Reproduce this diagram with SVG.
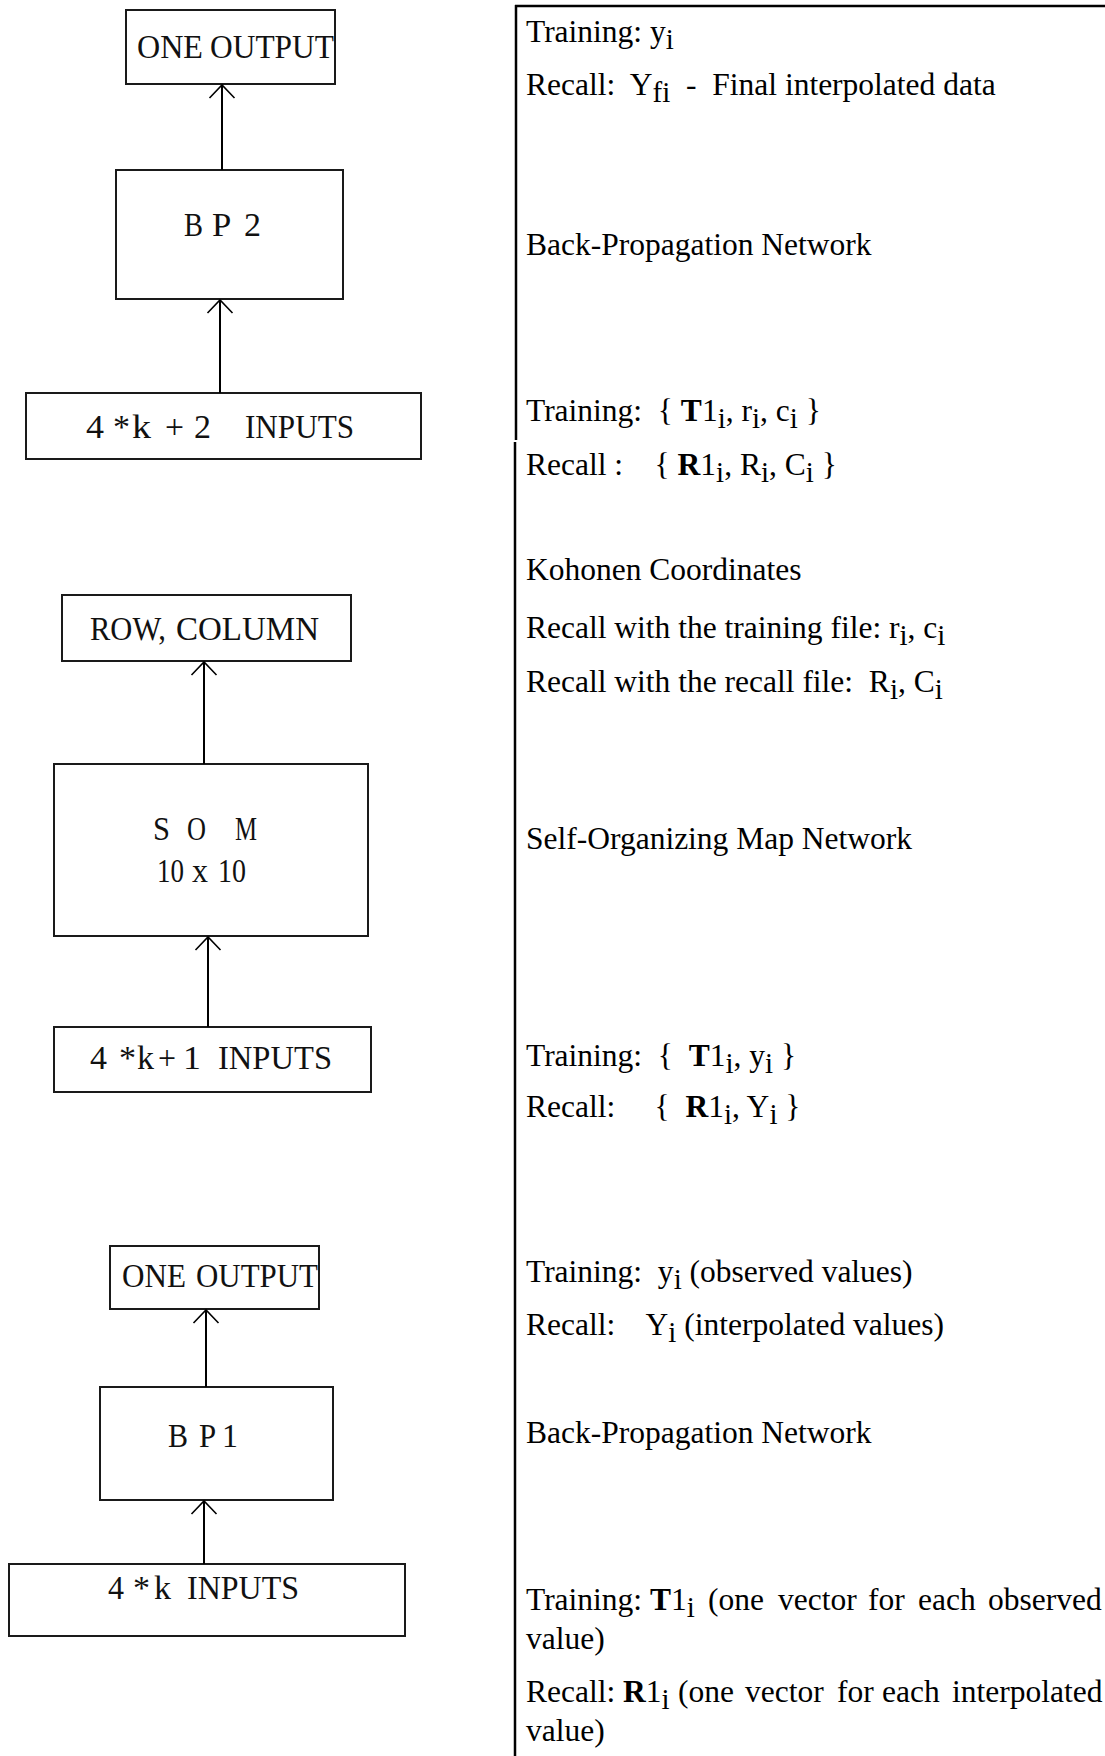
<svg xmlns="http://www.w3.org/2000/svg" width="1105" height="1756" viewBox="0 0 1105 1756">
  <style>
    .box { fill: #ffffff; stroke: #1a1a1a; stroke-width: 2; }
    .lbl { font-family: "Liberation Serif", "Times New Roman", serif; font-size: 34px; fill: #111111; word-spacing: -7px; }
    .wire { stroke: #000000; stroke-width: 2; fill: none; }
    .rule { stroke: #000000; stroke-width: 2.5; fill: none; }
    .note { font-family: "Liberation Serif", "Times New Roman", serif; font-size: 31.5px; fill: #000000; }
    .sub { font-size: 29px; }
    .b { font-weight: bold; }
  </style>
  <defs>
    <marker id="chevron" viewBox="-16 -16 32 32" refX="0" refY="0" markerWidth="32" markerHeight="32" markerUnits="userSpaceOnUse" orient="auto">
      <path d="M -13 -12.5 L 0 0 L -13 12.5" fill="none" stroke="#000000" stroke-width="1.6"/>
    </marker>
  </defs>

  <rect width="1105" height="1756" fill="#ffffff"/>

  <!-- left column: network stack -->
  <g id="bp2-output">
    <rect class="box" x="126" y="10" width="209" height="74"/>
    <text class="lbl" y="58"><tspan x="137" textLength="66" lengthAdjust="spacingAndGlyphs">ONE</tspan> <tspan x="210" textLength="124" lengthAdjust="spacingAndGlyphs">OUTPUT</tspan></text>
  </g>
  <g id="bp2">
    <rect class="box" x="116" y="170" width="227" height="129"/>
    <text class="lbl" y="236"><tspan x="184" textLength="19" lengthAdjust="spacingAndGlyphs">B</tspan> <tspan x="212" textLength="18" lengthAdjust="spacingAndGlyphs">P</tspan> <tspan x="244" textLength="17" lengthAdjust="spacingAndGlyphs">2</tspan></text>
  </g>
  <g id="bp2-inputs">
    <rect class="box" x="26" y="393" width="395" height="66"/>
    <text class="lbl" y="438"><tspan x="86" textLength="18" lengthAdjust="spacingAndGlyphs">4</tspan> <tspan x="113" textLength="17" lengthAdjust="spacingAndGlyphs">*</tspan><tspan x="132" textLength="19" lengthAdjust="spacingAndGlyphs">k</tspan> <tspan x="165" textLength="19" lengthAdjust="spacingAndGlyphs">+</tspan><tspan x="194" textLength="17" lengthAdjust="spacingAndGlyphs">2</tspan> <tspan x="245" textLength="109" lengthAdjust="spacingAndGlyphs">INPUTS</tspan></text>
  </g>

  <g id="som-output">
    <rect class="box" x="62" y="595" width="289" height="66"/>
    <text class="lbl" y="640"><tspan x="90" textLength="76" lengthAdjust="spacingAndGlyphs">ROW,</tspan> <tspan x="176" textLength="143" lengthAdjust="spacingAndGlyphs">COLUMN</tspan></text>
  </g>
  <g id="som">
    <rect class="box" x="54" y="764" width="314" height="172"/>
    <text class="lbl"><tspan x="153" y="840" textLength="17" lengthAdjust="spacingAndGlyphs">S</tspan> <tspan x="187" textLength="19" lengthAdjust="spacingAndGlyphs">O</tspan> <tspan x="235" textLength="22" lengthAdjust="spacingAndGlyphs">M</tspan> <tspan x="157" y="882" textLength="27" lengthAdjust="spacingAndGlyphs">10</tspan> <tspan x="192" textLength="16" lengthAdjust="spacingAndGlyphs">x</tspan> <tspan x="218" textLength="28" lengthAdjust="spacingAndGlyphs">10</tspan></text>
  </g>
  <g id="som-inputs">
    <rect class="box" x="54" y="1027" width="317" height="65"/>
    <text class="lbl" y="1069"><tspan x="90" textLength="17" lengthAdjust="spacingAndGlyphs">4</tspan> <tspan x="119" textLength="17" lengthAdjust="spacingAndGlyphs">*</tspan><tspan x="137" textLength="17" lengthAdjust="spacingAndGlyphs">k</tspan> <tspan x="158" textLength="18" lengthAdjust="spacingAndGlyphs">+</tspan> <tspan x="183" textLength="18" lengthAdjust="spacingAndGlyphs">1</tspan> <tspan x="218" textLength="114" lengthAdjust="spacingAndGlyphs">INPUTS</tspan></text>
  </g>

  <g id="bp1-output">
    <rect class="box" x="110" y="1246" width="209" height="63"/>
    <text class="lbl" y="1287"><tspan x="122" textLength="64" lengthAdjust="spacingAndGlyphs">ONE</tspan> <tspan x="196" textLength="122" lengthAdjust="spacingAndGlyphs">OUTPUT</tspan></text>
  </g>
  <g id="bp1">
    <rect class="box" x="100" y="1387" width="233" height="113"/>
    <text class="lbl" y="1447"><tspan x="168" textLength="20" lengthAdjust="spacingAndGlyphs">B</tspan> <tspan x="199" textLength="16" lengthAdjust="spacingAndGlyphs">P</tspan> <tspan x="222" textLength="16" lengthAdjust="spacingAndGlyphs">1</tspan></text>
  </g>
  <g id="bp1-inputs">
    <rect class="box" x="9" y="1564" width="396" height="72"/>
    <text class="lbl" y="1599"><tspan x="108" textLength="16" lengthAdjust="spacingAndGlyphs">4</tspan> <tspan x="133" textLength="17" lengthAdjust="spacingAndGlyphs">*</tspan><tspan x="154" textLength="17" lengthAdjust="spacingAndGlyphs">k</tspan> <tspan x="187" textLength="112" lengthAdjust="spacingAndGlyphs">INPUTS</tspan></text>
  </g>

  <!-- connectors between the stacked networks -->
  <g id="connectors">
    <line class="wire" x1="222" y1="170" x2="222" y2="85" marker-end="url(#chevron)"/>
    <line class="wire" x1="220" y1="393" x2="220" y2="300" marker-end="url(#chevron)"/>
    <line class="wire" x1="204" y1="764" x2="204" y2="662" marker-end="url(#chevron)"/>
    <line class="wire" x1="208" y1="1027" x2="208" y2="937" marker-end="url(#chevron)"/>
    <line class="wire" x1="206" y1="1387" x2="206" y2="1310" marker-end="url(#chevron)"/>
    <line class="wire" x1="204" y1="1564" x2="204" y2="1501" marker-end="url(#chevron)"/>
  </g>

  <!-- right column: description table -->
  <g id="description">
    <line class="rule" x1="515" y1="6" x2="1105" y2="6"/>
    <line class="rule" x1="516" y1="5" x2="516" y2="440"/>
    <line class="rule" x1="515" y1="442" x2="515" y2="1756"/>

    <text class="note" x="526" y="42">Training: y<tspan class="sub" dy="7">i</tspan></text>
    <text class="note" x="526" y="95" xml:space="preserve">Recall:  Y<tspan class="sub" dy="7">fi</tspan><tspan dy="-7">  -  Final interpolated data</tspan></text>
    <text class="note" x="526" y="255">Back-Propagation Network</text>

    <text class="note" x="526" y="421" xml:space="preserve">Training:  { <tspan class="b">T</tspan>1<tspan class="sub" dy="7">i</tspan><tspan dy="-7">, r</tspan><tspan class="sub" dy="7">i</tspan><tspan dy="-7">, c</tspan><tspan class="sub" dy="7">i</tspan><tspan dy="-7"> }</tspan></text>
    <text class="note" x="526" y="475" xml:space="preserve">Recall :    { <tspan class="b">R</tspan>1<tspan class="sub" dy="7">i</tspan><tspan dy="-7">, R</tspan><tspan class="sub" dy="7">i</tspan><tspan dy="-7">, C</tspan><tspan class="sub" dy="7">i</tspan><tspan dy="-7"> }</tspan></text>

    <text class="note" x="526" y="580">Kohonen Coordinates</text>
    <text class="note" x="526" y="638">Recall with the training file: r<tspan class="sub" dy="7">i</tspan><tspan dy="-7">, c</tspan><tspan class="sub" dy="7">i</tspan></text>
    <text class="note" x="526" y="692" xml:space="preserve">Recall with the recall file:  R<tspan class="sub" dy="7">i</tspan><tspan dy="-7">, C</tspan><tspan class="sub" dy="7">i</tspan></text>
    <text class="note" x="526" y="849">Self-Organizing Map Network</text>

    <text class="note" x="526" y="1066" xml:space="preserve">Training:  {  <tspan class="b">T</tspan>1<tspan class="sub" dy="7">i</tspan><tspan dy="-7">, y</tspan><tspan class="sub" dy="7">i</tspan><tspan dy="-7"> }</tspan></text>
    <text class="note" x="526" y="1117" xml:space="preserve">Recall:     {  <tspan class="b">R</tspan>1<tspan class="sub" dy="7">i</tspan><tspan dy="-7">, Y</tspan><tspan class="sub" dy="7">i</tspan><tspan dy="-7"> }</tspan></text>

    <text class="note" x="526" y="1282" xml:space="preserve">Training:  y<tspan class="sub" dy="7">i</tspan><tspan dy="-7"> (observed values)</tspan></text>
    <text class="note" x="526" y="1335" xml:space="preserve">Recall:    Y<tspan class="sub" dy="7">i</tspan><tspan dy="-7"> (interpolated values)</tspan></text>
    <text class="note" x="526" y="1443">Back-Propagation Network</text>

    <text class="note" x="526" y="1610">Training: <tspan class="b">T</tspan>1<tspan class="sub" dy="7">i</tspan><tspan x="708" dy="-7">(one</tspan><tspan x="778">vector</tspan><tspan x="868">for</tspan><tspan x="918">each</tspan><tspan x="988">observed</tspan></text>
    <text class="note" x="526" y="1649">value)</text>
    <text class="note" x="526" y="1702">Recall: <tspan class="b">R</tspan>1<tspan class="sub" dy="7">i</tspan><tspan x="678" dy="-7">(one</tspan><tspan x="745">vector</tspan><tspan x="837">for</tspan><tspan x="882">each</tspan><tspan x="952">interpolated</tspan></text>
    <text class="note" x="526" y="1741">value)</text>
  </g>
</svg>
